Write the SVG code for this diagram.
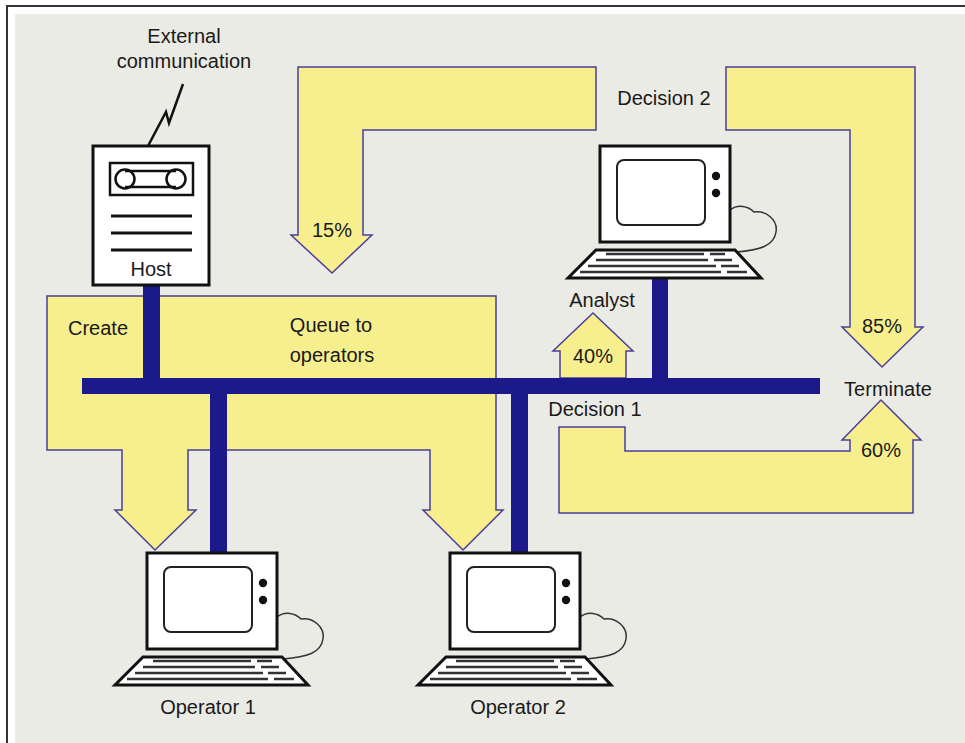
<svg xmlns="http://www.w3.org/2000/svg" width="965" height="743" viewBox="0 0 965 743">
  <defs>
    <style>
      .lbl { font-family: "Liberation Sans", Arial, sans-serif; font-size: 20px; fill: #1a1a1a; text-anchor: middle; }
      .flow { fill: #f7ef8e; stroke: #4b3f98; stroke-width: 1.5; stroke-linejoin: miter; }
      .bus { fill: #1c1a8a; }
      .box { fill: #ffffff; stroke: #111; stroke-width: 3; }
      .thin { fill: none; stroke: #111; stroke-width: 2.5; }
      .scr { fill: #ffffff; stroke: #222; stroke-width: 2; }
      .keys { fill: none; stroke: #333; stroke-width: 2.5; }
      .cable { fill: none; stroke: #333; stroke-width: 1.5; }
    </style>
    <!-- terminal: monitor, screen, knobs, keyboard and cable, origin at monitor top-left -->
    <g id="terminal">
      <path class="cable" d="M130,64 C138,58 148,60 154,66 C166,64 178,74 176,86 C174,100 160,104 136,106"/>
      <rect class="box" x="0" y="0" width="130" height="96"/>
      <rect class="scr" x="17" y="14" width="88" height="65" rx="7"/>
      <circle cx="116" cy="30" r="4.2" fill="#111"/>
      <circle cx="116" cy="47" r="4.2" fill="#111"/>
      <path class="box" d="M-4,104 H135 L161,132 H-32 Z"/>
      <path class="keys" d="M6,108 H104 M110,108 H125 M-4,114 H108 M114,114 H132 M-12,120 H116 M121,120 H139 M-20,126 H121 M127,126 H147"/>
    </g>
  </defs>

  <!-- page -->
  <rect x="0" y="0" width="965" height="743" fill="#ffffff"/>
  <rect x="15" y="14" width="950" height="729" fill="#ebebe6"/>
  <path d="M7,743 V6 H965" fill="none" stroke="#333" stroke-width="2"/>

  <!-- flow arrows -->
  <g id="flows">
    <path id="flow-create-queue" class="flow" d="M47,296 H496 V510 H503 L463,550 L423,510 H430 V450 H188 V510 H196 L155,550 L115,510 H122 V450 H47 Z"/>
    <path id="flow-15" class="flow" d="M298,67 H596 V130 H363 V235 H372 L332,273 L291,235 H298 Z"/>
    <path id="flow-85" class="flow" d="M726,67 H915 V327 H923 L882,367 L842,327 H850 V130 H726 Z"/>
    <path id="flow-40" class="flow" d="M560,378 V351 H553 L593,313 L633,351 H626 V378 Z"/>
    <path id="flow-60" class="flow" d="M559,427 H625 V451 H850 V440 H842 L881,400 L921,440 H913 V513 H559 Z"/>
  </g>

  <!-- network bus and drops -->
  <g id="connectors">
    <rect class="bus" x="82" y="378" width="738" height="16"/>
    <rect class="bus" x="143" y="284" width="17" height="96"/>
    <rect class="bus" x="210" y="392" width="17" height="161"/>
    <rect class="bus" x="511" y="392" width="17" height="161"/>
    <rect class="bus" x="652" y="277" width="16" height="103"/>
  </g>

  <!-- host -->
  <g id="host">
    <path d="M148,146 L166,112 L169,123 L183,84" fill="none" stroke="#111" stroke-width="2.5" stroke-linejoin="miter"/>
    <rect class="box" x="93" y="146" width="116" height="139"/>
    <rect class="thin" x="110" y="163" width="83" height="32" fill="#fff"/>
    <path class="thin" d="M125,171 H176 M125,187 H176"/>
    <circle class="thin" cx="125" cy="179" r="9.5" fill="#fff"/>
    <circle class="thin" cx="176" cy="179" r="9.5" fill="#fff"/>
    <path d="M111,216 H192 M111,233 H192 M111,250 H192" stroke="#111" stroke-width="3"/>
    <text class="lbl" x="151" y="276">Host</text>
  </g>

  <g id="external">
    <text class="lbl" x="184" y="43">External</text>
    <text class="lbl" x="184" y="68">communication</text>
  </g>

  <!-- terminals -->
  <g id="analyst">
    <use href="#terminal" x="600" y="146"/>
    <text class="lbl" x="602" y="307">Analyst</text>
  </g>
  <g id="operator1">
    <use href="#terminal" x="147" y="553"/>
    <text class="lbl" x="208" y="714">Operator 1</text>
  </g>
  <g id="operator2">
    <use href="#terminal" x="450" y="553"/>
    <text class="lbl" x="518" y="714">Operator 2</text>
  </g>

  <!-- flow labels -->
  <g id="labels">
    <text class="lbl" x="98" y="335">Create</text>
    <text class="lbl" x="331" y="332">Queue to</text>
    <text class="lbl" x="332" y="362">operators</text>
    <text class="lbl" x="332" y="237">15%</text>
    <text class="lbl" x="664" y="105">Decision 2</text>
    <text class="lbl" x="593" y="363">40%</text>
    <text class="lbl" x="882" y="333">85%</text>
    <text class="lbl" x="888" y="396">Terminate</text>
    <text class="lbl" x="595" y="416">Decision 1</text>
    <text class="lbl" x="881" y="457">60%</text>
  </g>
</svg>
